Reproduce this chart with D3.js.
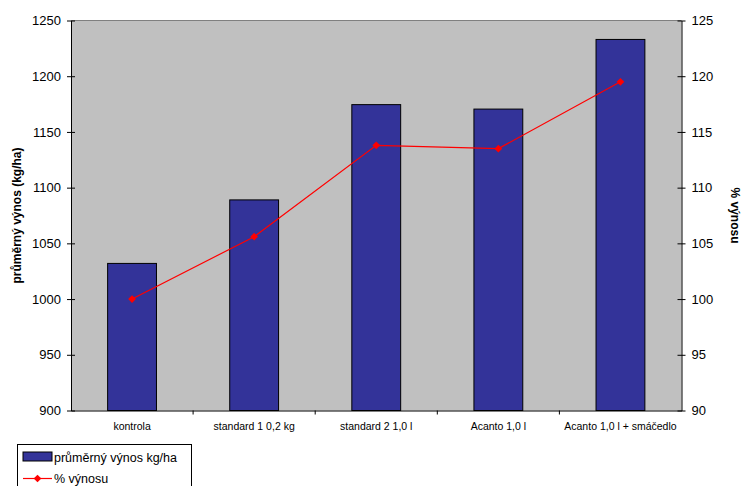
<!DOCTYPE html>
<html><head><meta charset="utf-8">
<script src="https://cdn.jsdelivr.net/npm/d3@7/dist/d3.min.js"></script>
<style>body{margin:0;background:#fff}svg text{font-family:"Liberation Sans",Arial,sans-serif}</style>
</head><body><svg id="c" width="742" height="486"></svg>
<script>
const categories = ["kontrola","standard 1 0,2 kg","standard 2 1,0 l","Acanto 1,0 l","Acanto 1,0 l + smáčedlo"];
const yieldValues = [1032, 1089, 1174.5, 1170.5, 1233];
const percentValues = [100, 105.6, 113.8, 113.5, 119.5];
const leftTicks = [900,950,1000,1050,1100,1150,1200,1250];
const rightTicks = [90,95,100,105,110,115,120,125];
const seriesNames = ["průměrný výnos kg/ha","% výnosu"];
const axisTitles = ["průměrný výnos (kg/ha)","% výnosu"];

const svg = d3.select("#c");
const L=71, R=681.5, T=20.5, B=410.5;
const x = d3.scaleBand().domain(categories).range([L,R]);
const yL = d3.scaleLinear().domain([900,1250]).range([B,T]);
const yR = d3.scaleLinear().domain([90,125]).range([B,T]);

svg.append("rect").attr("x",L).attr("y",T).attr("width",R-L).attr("height",B-T).attr("fill","#c0c0c0");
svg.append("line").attr("x1",L).attr("x2",R).attr("y1",T).attr("y2",T).attr("stroke","#808080").attr("stroke-width",1);

const bw = x.bandwidth()*0.4;
svg.selectAll("rect.bar").data(yieldValues).enter().append("rect").attr("class","bar")
  .attr("x",(d,i)=>x(categories[i])+x.bandwidth()/2-bw/2)
  .attr("y",d=>yL(d)).attr("width",bw).attr("height",d=>B-yL(d))
  .attr("fill","#333399").attr("stroke","#000").attr("stroke-width",1);

const line = d3.line().x((d,i)=>x(categories[i])+x.bandwidth()/2).y(d=>yR(d));
svg.append("path").datum(percentValues).attr("d",line).attr("fill","none").attr("stroke","#ff0000").attr("stroke-width",1.2);
const diamond = d3.symbol().type(d3.symbolSquare).size(30);
svg.selectAll("path.pt").data(percentValues).enter().append("path").attr("class","pt")
  .attr("d",diamond).attr("fill","#ff0000")
  .attr("transform",(d,i)=>`translate(${x(categories[i])+x.bandwidth()/2},${yR(d)}) rotate(45)`);

// Left axis
const gL = svg.append("g").attr("transform",`translate(${L},0)`)
  .call(d3.axisLeft(yL).tickValues(leftTicks).tickFormat(d3.format("d")).tickSizeInner(4).tickSizeOuter(0).tickPadding(6));
gL.selectAll(".tick line").attr("x2",4).attr("x1",-4);
// Right axis
const gR = svg.append("g").attr("transform",`translate(${R},0)`)
  .call(d3.axisRight(yR).tickValues(rightTicks).tickFormat(d3.format("d")).tickSizeInner(4).tickSizeOuter(0).tickPadding(6));
gR.selectAll(".tick line").attr("x1",-4).attr("x2",4);
// Bottom axis
const gB = svg.append("g").attr("transform",`translate(0,${B})`)
  .call(d3.axisBottom(x).tickSize(0).tickPadding(12));
gB.selectAll(".tick text").attr("font-size",10.5);
const bounds = [1,2,3,4].map(i=>L+i*x.step());
svg.selectAll("line.bt").data(bounds).enter().append("line").attr("class","bt")
  .attr("x1",d=>d).attr("x2",d=>d).attr("y1",B).attr("y2",B+4).attr("stroke","#000");
[gL,gR,gB].forEach(g=>{g.select(".domain").attr("stroke","#000");g.selectAll(".tick line").attr("stroke","#000");g.selectAll("text").attr("fill","#000");});
gL.selectAll(".tick text").attr("font-size",13);
gR.selectAll(".tick text").attr("font-size",13);

svg.append("text").attr("transform",`translate(21,${(T+B)/2}) rotate(-90)`).attr("text-anchor","middle")
  .attr("font-size",12).attr("font-weight","bold").text(axisTitles[0]);
svg.append("text").attr("transform",`translate(731,${(T+B)/2}) rotate(90)`).attr("text-anchor","middle")
  .attr("font-size",12).attr("font-weight","bold").text(axisTitles[1]);

// Legend
const lg = svg.append("g");
lg.append("rect").attr("x",17.5).attr("y",444.5).attr("width",174).attr("height",50).attr("fill","#fff").attr("stroke","#000");
lg.append("rect").attr("x",23).attr("y",452).attr("width",29).attr("height",9).attr("fill","#333399").attr("stroke","#000");
lg.append("text").attr("x",54).attr("y",461.5).attr("font-size",12.5).text(seriesNames[0]);
lg.append("line").attr("x1",23).attr("x2",52).attr("y1",478.5).attr("y2",478.5).attr("stroke","#ff0000").attr("stroke-width",1.2);
lg.append("path").attr("d",diamond).attr("fill","#ff0000").attr("transform","translate(37.5,478.5) rotate(45)");
lg.append("text").attr("x",54).attr("y",483).attr("font-size",12.5).text(seriesNames[1]);
</script></body></html>
